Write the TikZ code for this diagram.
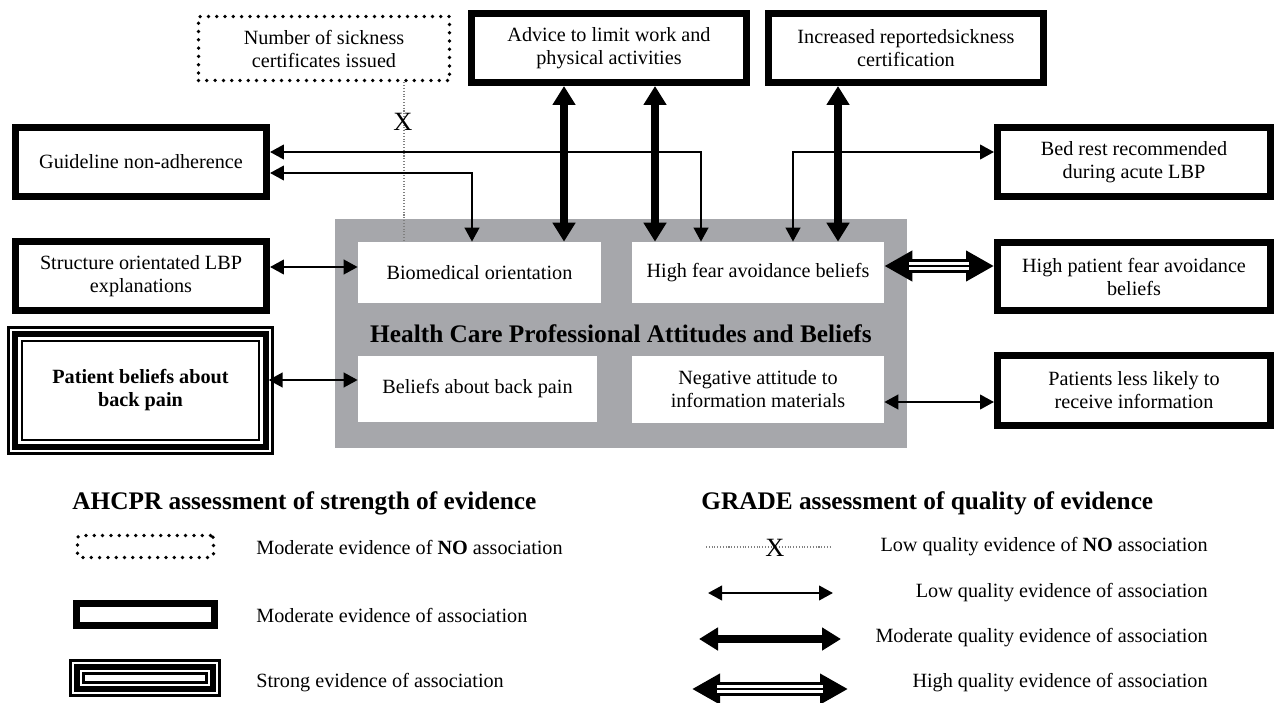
\documentclass[tikz,border=0pt]{standalone}
\usepackage{fontspec}
\setmainfont{Liberation Serif}
\usetikzlibrary{arrows.meta}
\definecolor{hcpgray}{RGB}{166,167,171}
\tikzset{
  every node/.style={font=\fontsize{11.5}{13.1}\selectfont, align=center, inner sep=0pt},
  modbox/.style={draw, line width=0.14cm, fill=white},
  nobox/.style={draw, line width=0.075cm, dash pattern=on 0pt off 0.166cm, line cap=round},
  strongbox/.style={draw, line width=0.114cm, preaction={draw, line width=0.32cm}, preaction={draw=white, line width=0.212cm}},
  hcpbox/.style={fill=hcpgray, minimum width=11.44cm, minimum height=4.58cm, font=\bfseries\fontsize{14.4}{17}\selectfont},
  inbox/.style={fill=white},
  legtitle/.style={anchor=west, font=\bfseries\fontsize{14.4}{17}\selectfont},
  xmark/.style={font=\fontsize{15}{18}\selectfont},
  lowq/.style={{Triangle[length=0.28cm,width=0.29cm]}-{Triangle[length=0.28cm,width=0.29cm]}, line width=0.05cm},
  modq/.style={{Triangle[length=0.38cm,width=0.44cm]}-{Triangle[length=0.38cm,width=0.44cm]}, line width=0.16cm},
  highq/.style={{Triangle[length=0.56cm,width=0.58cm]}-{Triangle[length=0.56cm,width=0.58cm]}, line width=0.28cm,
    postaction={draw=white, -, line width=0.17cm, shorten <=0.5cm, shorten >=0.5cm},
    postaction={draw=black, -, line width=0.054cm, shorten <=0.5cm, shorten >=0.5cm}},
  noq/.style={draw=gray, line width=0.6pt, densely dotted}
}
\begin{document}
\begin{tikzpicture}[x=0.02cm, y=-0.02cm]
  \useasboundingbox (0,0) rectangle (1275,703);

  % health care professional box
  \node[hcpbox] (hcp) at (621,333.5) {Health Care Professional Attitudes and Beliefs};
  \node[inbox, minimum width=4.86cm, minimum height=1.22cm] (bio) at (479.5,272.5) {Biomedical orientation};
  \node[inbox, minimum width=5.04cm, minimum height=1.22cm] (hfear) at (758,272.5) {High fear avoidance beliefs};
  \node[inbox, minimum width=4.78cm, minimum height=1.32cm] (belief) at (477.5,389) {Beliefs about back pain};
  \node[inbox, minimum width=5.04cm, minimum height=1.34cm] (negat) at (758,389.5) {Negative attitude to\\information materials};

  % outcome boxes
  \node[nobox, minimum width=5.02cm, minimum height=1.28cm] (nsc) at (324,48.5) {Number of sickness\\certificates issued};
  \node[modbox, minimum width=5.5cm, minimum height=1.38cm] (advice) at (609,48) {Advice to limit work and\\physical activities};
  \node[modbox, minimum width=5.5cm, minimum height=1.38cm] (incr) at (906,48) {Increased reportedsickness\\certification};
  \node[modbox, minimum width=5.02cm, minimum height=1.38cm] (guide) at (141,162) {Guideline non-adherence};
  \node[modbox, minimum width=5.46cm, minimum height=1.38cm] (bedrest) at (1134,162) {Bed rest recommended\\during acute LBP};
  \node[modbox, minimum width=5.02cm, minimum height=1.38cm] (struct) at (141,276) {Structure orientated LBP\\explanations};
  \node[modbox, minimum width=5.46cm, minimum height=1.36cm] (hpat) at (1134,276.5) {High patient fear avoidance\\beliefs};
  \node[strongbox, minimum width=5.01cm, minimum height=2.25cm] (patbel) at (140.5,390.5) {\bfseries Patient beliefs about\\\bfseries back pain};
  \node[modbox, minimum width=5.46cm, minimum height=1.40cm] (pless) at (1134,390.5) {Patients less likely to\\receive information};

  % associations
  \draw[noq] (nsc.south -| 404,0) -- (bio.north -| 404,0);
  \node[xmark] (nscx) at (403,122) {X};
  \draw[lowq] (guide.east |- 0,152) -- (701,152) -- (hfear.north -| 701,0);
  \draw[lowq] (guide.east |- 0,173) -- (472,173) -- (bio.north -| 472,0);
  \draw[lowq] (hfear.north -| 793,0) -- (793,152) -- (bedrest.west |- 0,152);
  \draw[modq] (advice.south -| 564,0) -- (bio.north -| 564,0);
  \draw[modq] (advice.south -| 655,0) -- (hfear.north -| 655,0);
  \draw[modq] (incr.south -| 838,0) -- (hfear.north -| 838,0);
  \draw[lowq] (struct.east |- 0,267) -- (bio.west |- 0,267);
  \draw[lowq] (patbel.east |- 0,380) -- (belief.west |- 0,380);
  \draw[highq] (hfear.east |- 0,266) -- (hpat.west |- 0,266);
  \draw[lowq] (negat.east |- 0,402) -- (pless.west |- 0,402);

  % legend, AHCPR
  \node[legtitle] (ahcpr) at (72,503) {AHCPR assessment of strength of evidence};
  \node[nobox, rounded corners=0.06cm, minimum width=2.72cm, minimum height=0.44cm] (lgno) at (145.5,546.5) {};
  \node[anchor=west] (lgnotxt) at (256,547) {Moderate evidence of \textbf{NO} association};
  \node[modbox, minimum width=2.76cm, minimum height=0.44cm] (lgmod) at (145.5,614.5) {};
  \node[anchor=west] (lgmodtxt) at (256,615) {Moderate evidence of association};
  \node[strongbox, minimum width=2.72cm, minimum height=0.44cm] (lgstr) at (145,678) {};
  \node[anchor=west] (lgstrtxt) at (256,683) {Strong evidence of association};

  % legend, GRADE
  \node[legtitle] (grade) at (701,503) {GRADE assessment of quality of evidence};
  \coordinate (noa) at (706,547);
  \coordinate (nob) at (832,547);
  \draw[noq] (noa) -- (nob);
  \node[xmark] (nox) at (775,548) {X};
  \node[anchor=east] (notxt) at (1208,547) {Low quality evidence of \textbf{NO} association};
  \coordinate (lowa) at (708,593);
  \coordinate (lowb) at (833,593);
  \draw[lowq] (lowa) -- (lowb);
  \node[anchor=east] (lowtxt) at (1208,593) {Low quality evidence of association};
  \coordinate (moda) at (699,639);
  \coordinate (modb) at (841,639);
  \draw[modq] (moda) -- (modb);
  \node[anchor=east] (modtxt) at (1208,638) {Moderate quality evidence of association};
  \coordinate (higha) at (692,689);
  \coordinate (highb) at (848,689);
  \draw[highq] (higha) -- (highb);
  \node[anchor=east] (hightxt) at (1208,683) {High quality evidence of association};
\end{tikzpicture}
\end{document}
